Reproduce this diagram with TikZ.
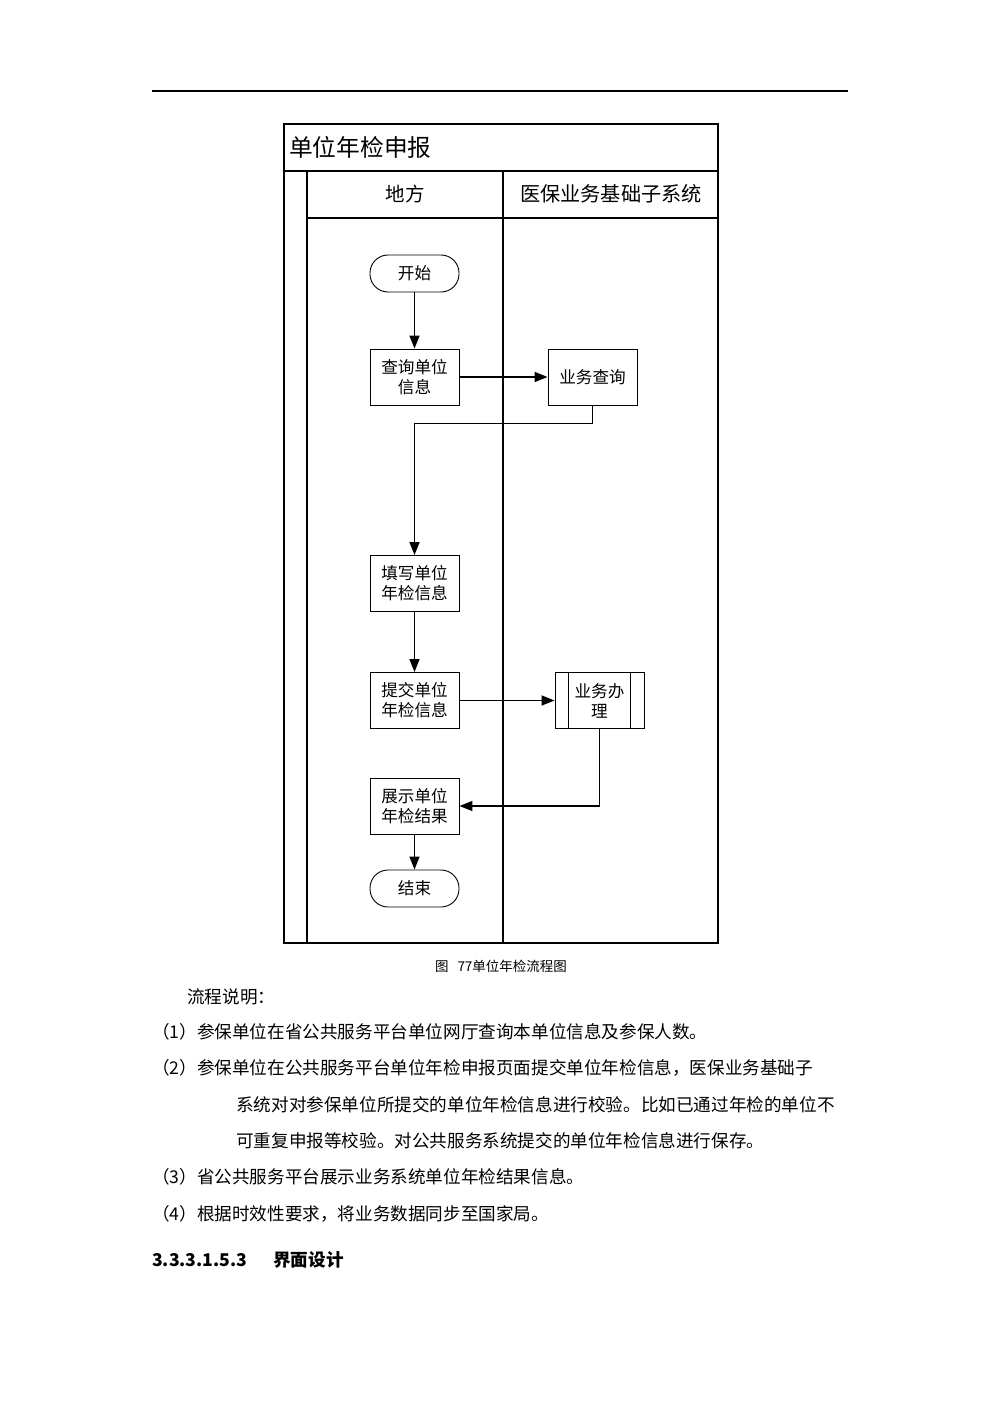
\documentclass[tikz,border=0pt]{standalone}
\usepackage{fontspec}
\setmainfont{Noto Sans CJK SC}
\usetikzlibrary{arrows.meta,calc}
\tikzset{
  box/.style={draw, line width=0.9pt, minimum width=89pt, minimum height=56pt, inner sep=0pt, align=center, font=\fontsize{16.6}{20}\selectfont},
  term/.style={draw, line width=0.9pt, rounded corners=18pt, minimum width=89pt, minimum height=37pt, inner sep=0pt, font=\fontsize{16.6}{20}\selectfont},
  arr/.style={line width=1.5pt, -{Triangle[length=13pt,width=10pt]}},
  frame/.style={line width=1.2pt},
  body/.style={anchor=west, inner sep=0pt, font=\fontsize{17.6}{20}\selectfont},
}
\begin{document}
\begin{tikzpicture}[x=1pt,y=-1pt]
\useasboundingbox (0,0) rectangle (1000,1415);
% top rule
\draw[line width=1.2pt] (152,91) -- (848,91);
% pool frame
\draw[frame] (284,124) rectangle (718,943);
\draw[frame] (284,171) -- (718,171);
\draw[frame] (307,171) -- (307,943);
\draw[frame] (307,218) -- (718,218);
\draw[frame] (503,171) -- (503,943);
\node[anchor=west, inner sep=0pt, font=\fontsize{23.7}{26}\selectfont] (title) at (289,147) {单位年检申报};
\node[font=\fontsize{19.5}{22}\selectfont] (lane1) at (405,194) {地方};
\node[font=\fontsize{20.2}{22}\selectfont] (lane2) at (611,194) {医保业务基础子系统};
% nodes
\node[term] (start) at (414.5,273.5) {开始};
\node[box] (q) at (414.5,377) {查询单位\\信息};
\node[box] (bq) at (592.5,377) {业务查询};
\node[box] (fill) at (414.5,583.5) {填写单位\\年检信息};
\node[box] (sub) at (414.5,700.5) {提交单位\\年检信息};
\node[box] (proc) at (599.5,700.5) {业务办\\理};
\draw[line width=0.9pt] ($(proc.north west)+(14,0)$) -- ($(proc.south west)+(14,0)$);
\draw[line width=0.9pt] ($(proc.north east)+(-14,0)$) -- ($(proc.south east)+(-14,0)$);
\node[box] (show) at (414.5,806) {展示单位\\年检结果};
\node[term] (end) at (414.5,888.5) {结束};
% connectors
\draw[arr] (start) -- (q);
\draw[arr] (q) -- (bq);
\draw[arr] (bq.south) -- ++(0,18) -| (fill.north);
\draw[arr] (fill) -- (sub);
\draw[arr] (sub) -- (proc);
\draw[arr] (proc.south) |- (show.east);
\draw[arr] (show) -- (end);
% caption and text
\node[font=\fontsize{13.5}{15}\selectfont] (cap) at (501,966) {图\hspace{9pt}77单位年检流程图};
\node[body] (t0) at (187,997) {流程说明：};
\node[body] (t1) at (152,1032) {（1）参保单位在省公共服务平台单位网厅查询本单位信息及参保人数。};
\node[body] (t2) at (152,1068) {（2）参保单位在公共服务平台单位年检申报页面提交单位年检信息，医保业务基础子};
\node[body] (t3) at (236,1105) {系统对对参保单位所提交的单位年检信息进行校验。比如已通过年检的单位不};
\node[body] (t4) at (236,1141) {可重复申报等校验。对公共服务系统提交的单位年检信息进行保存。};
\node[body] (t5) at (152,1177) {（3）省公共服务平台展示业务系统单位年检结果信息。};
\node[body] (t6) at (152,1214) {（4）根据时效性要求，将业务数据同步至国家局。};
\node[body, font=\fontsize{17.6}{20}\selectfont\bfseries] (h) at (152,1260) {3.3.3.1.5.3\hspace{26pt}界面设计};
\end{tikzpicture}
\end{document}
